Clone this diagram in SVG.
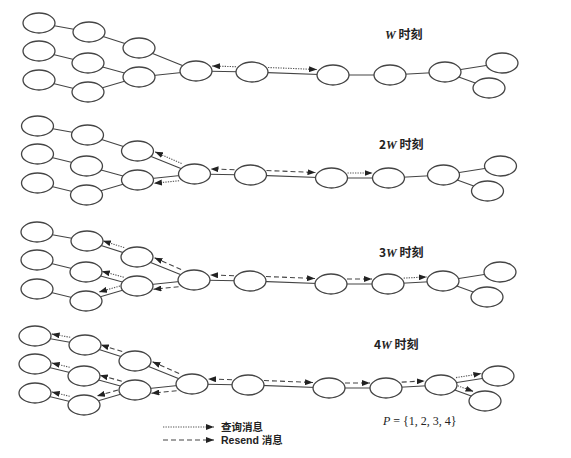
<svg xmlns="http://www.w3.org/2000/svg" width="571" height="458" viewBox="0 0 571 458">
<defs>
<marker id="ah" viewBox="0 0 8 6" refX="8" refY="3" markerWidth="8" markerHeight="6" markerUnits="userSpaceOnUse" orient="auto"><path d="M0,0 L8,3 L0,6 z" fill="#222"/></marker>
</defs>
<style>
.e{stroke:#444;stroke-width:1.2;fill:none}
.n{fill:#fff;stroke:#444;stroke-width:1.3}
.q{stroke:#555;stroke-width:1.1;fill:none;stroke-dasharray:1.3 1.2;marker-end:url(#ah)}
.r{stroke:#444;stroke-width:1.1;fill:none;stroke-dasharray:5 3;marker-end:url(#ah)}
.lbl{font-family:"Noto Sans CJK SC",sans-serif;font-weight:bold;font-size:12px;fill:#222}
.lg{font-family:"Liberation Sans","Noto Sans CJK SC",sans-serif;font-weight:bold;font-size:10.5px;fill:#222}
.it{font-family:"Liberation Serif",serif;font-style:italic;font-weight:bold}
.pl{font-family:"Liberation Serif",serif;font-size:12px;fill:#222}
</style>
<rect width="571" height="458" fill="#fff"/>

<!-- Panel 1 -->
<g id="panel1">
<g id="p1-edges">
<path class="e" d="M39,23 L89,32 L139,48 L196,71 M39,51 L88,63 L139,77 L196,71 M39,80 L88,92 L139,77 M196,71 L252,72 L333,75 L390,75 L445,72 L502,63 M445,72 L489,88"/>
</g>
<g id="p1-A1"><ellipse class="n" cx="39" cy="23" rx="16" ry="10"/></g>
<g id="p1-A2"><ellipse class="n" cx="89" cy="32" rx="16" ry="10"/></g>
<g id="p1-A3"><ellipse class="n" cx="139" cy="48" rx="16" ry="10"/></g>
<g id="p1-B1"><ellipse class="n" cx="39" cy="51" rx="16" ry="10"/></g>
<g id="p1-B2"><ellipse class="n" cx="88" cy="63" rx="16" ry="10"/></g>
<g id="p1-B3"><ellipse class="n" cx="139" cy="77" rx="16" ry="10"/></g>
<g id="p1-C1"><ellipse class="n" cx="39" cy="80" rx="16" ry="10"/></g>
<g id="p1-C2"><ellipse class="n" cx="88" cy="92" rx="16" ry="10"/></g>
<g id="p1-H"><ellipse class="n" cx="196" cy="71" rx="16" ry="10"/></g>
<g id="p1-N1"><ellipse class="n" cx="252" cy="72" rx="16" ry="10"/></g>
<g id="p1-N2"><ellipse class="n" cx="333" cy="75" rx="16" ry="10"/></g>
<g id="p1-N3"><ellipse class="n" cx="390" cy="75" rx="16" ry="10"/></g>
<g id="p1-N4"><ellipse class="n" cx="445" cy="72" rx="16" ry="10"/></g>
<g id="p1-L1"><ellipse class="n" cx="502" cy="63" rx="16" ry="10"/></g>
<g id="p1-L2"><ellipse class="n" cx="489" cy="88" rx="16" ry="10"/></g>
<g id="p1-msgs">
<path class="q" d="M236,66.7 L212,66"/>
<path class="q" d="M268,67.5 L317,69.5"/>
</g>
</g>
<text class="lbl" x="385" y="39"><tspan class="it">W</tspan> 时刻</text>

<!-- Panel 2 -->
<g id="panel2" transform="translate(-1.5,103)">
<g id="p2-edges">
<path class="e" d="M39,23 L89,32 L139,48 L196,71 M39,51 L88,63 L139,77 L196,71 M39,80 L88,92 L139,77 M196,71 L252,72 L333,75 L390,75 L445,72 L502,63 M445,72 L489,88"/>
</g>
<g id="p2-A1"><ellipse class="n" cx="39" cy="23" rx="16" ry="10"/></g>
<g id="p2-A2"><ellipse class="n" cx="89" cy="32" rx="16" ry="10"/></g>
<g id="p2-A3"><ellipse class="n" cx="139" cy="48" rx="16" ry="10"/></g>
<g id="p2-B1"><ellipse class="n" cx="39" cy="51" rx="16" ry="10"/></g>
<g id="p2-B2"><ellipse class="n" cx="88" cy="63" rx="16" ry="10"/></g>
<g id="p2-B3"><ellipse class="n" cx="139" cy="77" rx="16" ry="10"/></g>
<g id="p2-C1"><ellipse class="n" cx="39" cy="80" rx="16" ry="10"/></g>
<g id="p2-C2"><ellipse class="n" cx="88" cy="92" rx="16" ry="10"/></g>
<g id="p2-H"><ellipse class="n" cx="196" cy="71" rx="16" ry="10"/></g>
<g id="p2-N1"><ellipse class="n" cx="252" cy="72" rx="16" ry="10"/></g>
<g id="p2-N2"><ellipse class="n" cx="333" cy="75" rx="16" ry="10"/></g>
<g id="p2-N3"><ellipse class="n" cx="390" cy="75" rx="16" ry="10"/></g>
<g id="p2-N4"><ellipse class="n" cx="445" cy="72" rx="16" ry="10"/></g>
<g id="p2-L1"><ellipse class="n" cx="502" cy="63" rx="16" ry="10"/></g>
<g id="p2-L2"><ellipse class="n" cx="489" cy="88" rx="16" ry="10"/></g>
<g id="p2-msgs">
<path class="r" d="M236,66.7 L212,66"/>
<path class="r" d="M268,67.5 L317,69.5"/>
<path class="q" d="M349,70 L374,70"/>
<path class="q" d="M183.1,60.4 L156.4,48.8"/>
<path class="q" d="M180.6,77.7 L155.4,80.3"/>
</g>
</g>
<text class="lbl" x="379" y="149">2<tspan class="it">W</tspan> 时刻</text>

<!-- Panel 3 -->
<g id="panel3" transform="translate(-2,209)">
<g id="p3-edges">
<path class="e" d="M39,23 L89,32 L139,48 L196,71 M39,51 L88,63 L139,77 L196,71 M39,80 L88,92 L139,77 M196,71 L252,72 L333,75 L390,75 L445,72 L502,63 M445,72 L489,88"/>
</g>
<g id="p3-A1"><ellipse class="n" cx="39" cy="23" rx="16" ry="10"/></g>
<g id="p3-A2"><ellipse class="n" cx="89" cy="32" rx="16" ry="10"/></g>
<g id="p3-A3"><ellipse class="n" cx="139" cy="48" rx="16" ry="10"/></g>
<g id="p3-B1"><ellipse class="n" cx="39" cy="51" rx="16" ry="10"/></g>
<g id="p3-B2"><ellipse class="n" cx="88" cy="63" rx="16" ry="10"/></g>
<g id="p3-B3"><ellipse class="n" cx="139" cy="77" rx="16" ry="10"/></g>
<g id="p3-C1"><ellipse class="n" cx="39" cy="80" rx="16" ry="10"/></g>
<g id="p3-C2"><ellipse class="n" cx="88" cy="92" rx="16" ry="10"/></g>
<g id="p3-H"><ellipse class="n" cx="196" cy="71" rx="16" ry="10"/></g>
<g id="p3-N1"><ellipse class="n" cx="252" cy="72" rx="16" ry="10"/></g>
<g id="p3-N2"><ellipse class="n" cx="333" cy="75" rx="16" ry="10"/></g>
<g id="p3-N3"><ellipse class="n" cx="390" cy="75" rx="16" ry="10"/></g>
<g id="p3-N4"><ellipse class="n" cx="445" cy="72" rx="16" ry="10"/></g>
<g id="p3-L1"><ellipse class="n" cx="502" cy="63" rx="16" ry="10"/></g>
<g id="p3-L2"><ellipse class="n" cx="489" cy="88" rx="16" ry="10"/></g>
<g id="p3-msgs">
<path class="r" d="M236,66.7 L212,66"/>
<path class="r" d="M268,67.5 L317,69.5"/>
<path class="r" d="M349,70 L374,70"/>
<path class="q" d="M405.7,69.1 L428.7,67.9"/>
<path class="r" d="M183.1,60.4 L156.4,48.8"/>
<path class="r" d="M180.6,77.7 L155.4,80.3"/>
<path class="q" d="M126.2,38.6 L104.8,31.8"/>
<path class="q" d="M125.8,68.2 L103.8,62.2"/>
<path class="q" d="M122,77 L101,83"/>
</g>
</g>
<text class="lbl" x="379" y="257">3<tspan class="it">W</tspan> 时刻</text>

<!-- Panel 4 -->
<g id="panel4" transform="translate(-4,313)">
<g id="p4-edges">
<path class="e" d="M39,23 L89,32 L139,48 L196,71 M39,51 L88,63 L139,77 L196,71 M39,80 L88,92 L139,77 M196,71 L252,72 L333,75 L390,75 L445,72 L502,63 M445,72 L489,88"/>
</g>
<g id="p4-A1"><ellipse class="n" cx="39" cy="23" rx="16" ry="10"/></g>
<g id="p4-A2"><ellipse class="n" cx="89" cy="32" rx="16" ry="10"/></g>
<g id="p4-A3"><ellipse class="n" cx="139" cy="48" rx="16" ry="10"/></g>
<g id="p4-B1"><ellipse class="n" cx="39" cy="51" rx="16" ry="10"/></g>
<g id="p4-B2"><ellipse class="n" cx="88" cy="63" rx="16" ry="10"/></g>
<g id="p4-B3"><ellipse class="n" cx="139" cy="77" rx="16" ry="10"/></g>
<g id="p4-C1"><ellipse class="n" cx="39" cy="80" rx="16" ry="10"/></g>
<g id="p4-C2"><ellipse class="n" cx="88" cy="92" rx="16" ry="10"/></g>
<g id="p4-H"><ellipse class="n" cx="196" cy="71" rx="16" ry="10"/></g>
<g id="p4-N1"><ellipse class="n" cx="252" cy="72" rx="16" ry="10"/></g>
<g id="p4-N2"><ellipse class="n" cx="333" cy="75" rx="16" ry="10"/></g>
<g id="p4-N3"><ellipse class="n" cx="390" cy="75" rx="16" ry="10"/></g>
<g id="p4-N4"><ellipse class="n" cx="445" cy="72" rx="16" ry="10"/></g>
<g id="p4-L1"><ellipse class="n" cx="502" cy="63" rx="16" ry="10"/></g>
<g id="p4-L2"><ellipse class="n" cx="489" cy="88" rx="16" ry="10"/></g>
<g id="p4-msgs">
<path class="r" d="M236,66.7 L212,66"/>
<path class="r" d="M268,67.5 L317,69.5"/>
<path class="r" d="M349,70 L374,70"/>
<path class="r" d="M405.7,69.1 L428.7,67.9"/>
<path class="r" d="M183.1,60.4 L156.4,48.8"/>
<path class="r" d="M180.6,77.7 L155.4,80.3"/>
<path class="r" d="M126.2,38.6 L104.8,31.8"/>
<path class="r" d="M125.8,68.2 L103.8,62.2"/>
<path class="r" d="M122,77 L101,83"/>
<path class="q" d="M74.2,24.3 L55.6,20.9"/>
<path class="q" d="M73.7,54.3 L55.7,49.9"/>
<path class="q" d="M73.7,83.3 L55.7,78.9"/>
<path class="q" d="M460,64.6 L485.4,60.6"/>
<path class="q" d="M461.7,72.8 L477.5,78.5"/>
</g>
</g>
<text class="lbl" x="374" y="349">4<tspan class="it">W</tspan> 时刻</text>
<text class="pl" x="383" y="425"><tspan font-style="italic">P</tspan> = {1, 2, 3, 4}</text>

<!-- Legend -->
<g id="legend">
<path class="q" d="M163,427 L214,427"/>
<path class="r" d="M163,440 L214,440"/>
<text class="lg" x="221" y="431">查询消息</text>
<text class="lg" x="221" y="444">Resend 消息</text>
</g>
</svg>
